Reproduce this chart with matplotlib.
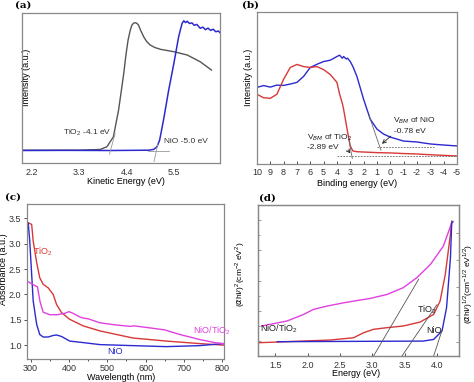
import matplotlib.pyplot as plt
import matplotlib.ticker as mticker

plt.rcParams['font.family'] = ['Liberation Sans', 'DejaVu Sans']
plt.rcParams['font.size'] = 6.5
plt.rcParams['mathtext.fontset'] = 'custom'
plt.rcParams['mathtext.rm'] = 'Liberation Sans'
plt.rcParams['axes.unicode_minus'] = False

RED = '#d83838'
BLUE = '#2a2ad0'
MAG = '#e040e0'
GREY = '#555555'
FRAME = '#888888'

# (a) UPS cut-off, kinetic energy
a_tio2_e = [1.98, 3.3, 3.785, 3.94, 4.09, 4.21, 4.27, 4.33, 4.38, 4.43, 4.48, 4.52, 4.56, 4.6, 4.63, 4.67,
            4.72, 4.79, 4.86, 4.94, 5.05, 5.18, 5.49, 5.8, 6.1, 6.36]
a_tio2_i = [8.6, 8.6, 9.1, 10.9, 17.5, 35.3, 47.5, 59.8, 72, 82, 88.5, 92, 93.3, 93.5, 93.2, 92,
            88.5, 84.2, 81, 78.7, 77, 75.8, 74.2, 72, 67.5, 62]
a_nio_e = [1.98, 3.0, 4.0, 4.9, 5.02, 5.1, 5.16, 5.25, 5.37, 5.49, 5.6, 5.68, 5.72, 5.76, 5.8, 5.85, 5.91,
           5.96, 6.02, 6.1, 6.16, 6.22, 6.28, 6.34, 6.4, 6.46, 6.52, 6.56]
a_nio_i = [8.4, 8.5, 8.4, 8.6, 9.1, 10.9, 15.3, 28.7, 48.7, 66.5, 84.2, 93.1, 94.8, 93.6, 94.5, 93.0, 93.4,
           91.8, 92.4, 89.8, 90.6, 88.9, 89.9, 88.4, 89.2, 87.5, 88.0, 86.8]

# (b) valence band, binding energy
b_be = [10, 9.5, 9, 8.5, 8, 7.5, 7, 6.5, 6, 5.5, 5, 4.5, 4, 3.8, 3.6, 3.5, 3.3, 3.2, 3.0, 2.8, 2.5, 2, 1.5,
        1, 0.5, 0, -1, -2, -3, -4, -5]
b_nio = [50.3, 51.5, 50.5, 51.8, 51.6, 52.5, 53.6, 57.5, 63.4, 65.5, 67.3, 68.2, 70.6, 71.5, 69.5, 70.6,
         69.0, 69.5, 67.3, 64.0, 57.5, 42.5, 29.4, 22.9, 19.6, 17.6, 15.0, 14.4, 13.1, 12.4, 11.8]
b_tio2 = [45.8, 43.5, 43.1, 45.8, 55.6, 63.4, 65.4, 64.0, 63.4, 64.0, 62.0, 58.8, 53.6, 46.0, 40.0, 36.0,
          26.0, 21.0, 11.8, 8.5, 8.0, 7.8, 7.6, 7.4, 7.3, 7.2, 6.8, 6.5, 6.0, 5.6, 5.2]

# (c) UV-vis absorbance
c_wl = [294, 298, 303, 307, 316, 324, 333, 346, 359, 368, 381, 402, 437, 481, 567, 654, 741, 803]
c_tio2 = [3.41, 3.40, 3.38, 3.05, 2.63, 2.33, 2.20, 2.13, 2.00, 1.80, 1.64, 1.51, 1.38, 1.28, 1.14, 1.08, 1.03, 1.00]
c_nio = [3.41, 3.05, 2.39, 1.87, 1.41, 1.21, 1.16, 1.16, 1.19, 1.20, 1.17, 1.08, 1.05, 1.01, 0.99, 0.97, 0.99, 1.03]
c_mix_wl = [294, 310, 318, 325, 333, 350, 370, 390, 400, 410, 430, 440, 450, 481, 520, 560, 570, 611, 650,
            689, 741, 780, 803]
c_mix = [2.25, 2.18, 2.15, 1.85, 1.65, 1.60, 1.60, 1.63, 1.66, 1.63, 1.55, 1.53, 1.52, 1.44, 1.40, 1.37,
         1.38, 1.34, 1.30, 1.21, 1.11, 1.05, 1.03]

# (d) Tauc plot
d_mix_e = [1.29, 1.68, 1.94, 2.09, 2.30, 2.56, 2.97, 3.23, 3.48, 3.69, 3.90, 4.10, 4.23]
d_mix = [19.9, 23.2, 27.6, 30.9, 33.1, 35.3, 38.2, 40.8, 45.3, 51.9, 60.7, 72.8, 88.3]
d_tio2_e = [1.23, 2.35, 2.71, 2.87, 3.02, 3.23, 3.48, 3.74, 3.95, 4.05, 4.13, 4.21, 4.23]
d_tio2 = [8.8, 10.6, 12.1, 15.5, 17.7, 18.8, 19.9, 22.5, 27.6, 36.4, 54.0, 80.6, 89.4]
d_nio_e = [1.53, 3.79, 3.95, 4.08, 4.15, 4.21, 4.23, 4.25]
d_nio = [9.5, 9.9, 11.0, 16.6, 32.0, 65.0, 88.3, 89.0]

fig = plt.figure(figsize=(4.74, 3.82), dpi=100)
ax_a = fig.add_axes([0.0464, 0.573, 0.418, 0.393])
ax_b = fig.add_axes([0.542, 0.571, 0.422, 0.398])
ax_c = fig.add_axes([0.0563, 0.0594, 0.416, 0.406])
ax_d = fig.add_axes([0.544, 0.068, 0.424, 0.395])

for ax in (ax_a, ax_b, ax_c, ax_d):
    for s in ax.spines.values():
        s.set_color(FRAME)
        s.set_linewidth(0.9)

# ---- (a)
ax_a.plot(a_tio2_e, a_tio2_i, color=GREY, lw=1.0)
ax_a.plot(a_nio_e, a_nio_i, color=BLUE, lw=1.1)
ax_a.plot([4.0, 4.13], [6, 19.8], color='#999999', lw=0.6)
ax_a.plot([4.89, 5.37], [8, 8], color='#999999', lw=0.6)
ax_a.plot([5.03, 5.12], [1, 13], color='#999999', lw=0.6)
ax_a.text(2.93, 20, 'TiO$_2$ -4.1 eV', color='#333333', fontsize=6, va='center')
ax_a.text(5.25, 14.7, 'NiO -5.0 eV', color='#333333', fontsize=6, va='center')
ax_a.set_xlim(1.975, 6.56)
ax_a.set_ylim(0, 100)
ax_a.set_xticks([2.2, 3.3, 4.4, 5.5])
ax_a.set_yticks([])
ax_a.tick_params(axis='x', length=0, pad=3.5, colors='#333333')
ax_a.set_xlabel('Kinetic Energy (eV)')
ax_a.xaxis.set_label_coords(0.525, -0.093)
ax_a.set_ylabel('Intensity (a.u.)')
ax_a.yaxis.set_label_coords(0.045, 0.57)

# ---- (b)
ax_b.plot(b_be, b_nio, color=BLUE, lw=1.0)
ax_b.plot(b_be, b_tio2, color=RED, lw=1.0)
ax_b.plot([4, -5], [5.4, 5.4], color='#666666', lw=0.6, ls=(0, (2, 1.5)))
ax_b.plot([1.0, -3.3], [11.3, 11.3], color='#666666', lw=0.6, ls=(0, (2, 1.5)))
ax_b.plot([3.1, 2.85], [16, 3.5], color='#666666', lw=0.6)
ax_b.plot([1.6, 0.7], [32, 9], color='#666666', lw=0.6)
ax_b.text(6.25, 17, 'V$_{BM}$ of TiO$_2$', fontsize=6, va='center', color='#222222')
ax_b.text(6.25, 11.1, '-2.89 eV', fontsize=6, va='center', color='#222222')
ax_b.annotate('', xy=(2.87, 5.4), xytext=(3.3, 10.5),
              arrowprops=dict(arrowstyle='->', lw=0.6, color='#222222'))
ax_b.text(-0.2, 28.1, 'V$_{BM}$ of NiO', fontsize=6, va='center', color='#222222')
ax_b.text(-0.28, 21.5, '-0.78 eV', fontsize=6, va='center', color='#222222')
ax_b.annotate('', xy=(0.78, 12), xytext=(-0.2, 19.5),
              arrowprops=dict(arrowstyle='->', lw=0.6, color='#222222'))
ax_b.set_xlim(10, -5)
ax_b.set_ylim(0, 100)
ax_b.set_xticks(range(10, -6, -1))
ax_b.set_yticks([])
ax_b.tick_params(axis='x', direction='in', length=2.5, width=0.6, pad=3, colors='#333333')
ax_b.set_xlabel('Binding energy (eV)')
ax_b.xaxis.set_label_coords(0.5, -0.099)
ax_b.set_ylabel('Intensity (a.u.)')
ax_b.yaxis.set_label_coords(-0.02, 0.57)

# ---- (c)
ax_c.plot(c_wl, c_tio2, color=RED, lw=1.0)
ax_c.plot(c_wl, c_nio, color=BLUE, lw=1.0)
ax_c.plot(c_mix_wl, c_mix, color=MAG, lw=1.0)
ax_c.text(306, 2.85, 'TiO$_2$', color=RED, fontsize=6.5, va='center')
ax_c.text(723, 1.28, 'NiO/TiO$_2$', color=MAG, fontsize=6.5, va='center')
ax_c.text(499, 0.88, 'NiO', color=BLUE, fontsize=6.5, va='center')
ax_c.set_xlim(290, 804)
ax_c.set_ylim(0.72, 3.78)
ax_c.set_xticks(range(300, 801, 100))
ax_c.xaxis.set_minor_locator(mticker.MultipleLocator(50))
ax_c.set_yticks([1.0, 1.5, 2.0, 2.5, 3.0, 3.5])
ax_c.yaxis.set_major_formatter(mticker.FormatStrFormatter('%.1f'))
ax_c.tick_params(which='both', direction='out', width=0.6, pad=1.2, colors='#333333')
ax_c.tick_params(which='major', length=2.5)
ax_c.tick_params(which='minor', length=1.5)
ax_c.set_xlabel('Wavelength (nm)')
ax_c.xaxis.set_label_coords(0.48, -0.088)
ax_c.set_ylabel('Absorbance (a.u.)')
ax_c.yaxis.set_label_coords(-0.097, 0.58)

# ---- (d)
ax_d.plot(d_mix_e, d_mix, color=MAG, lw=1.0)
ax_d.plot(d_tio2_e, d_tio2, color=RED, lw=1.0)
ax_d.plot(d_nio_e, d_nio, color=BLUE, lw=1.0)
for xs, ys in (([3.02, 3.72], [0, 51]), ([3.46, 4.0], [0, 34]), ([3.95, 4.08], [0, 17])):
    ax_d.plot(xs, ys, color='#555555', lw=0.6)
ax_d.text(3.69, 30.5, 'TiO$_2$', fontsize=6.5, va='center', color='#222222')
ax_d.text(1.26, 17.9, 'NiO/TiO$_2$', fontsize=6.5, va='center', color='#222222')
ax_d.text(3.84, 16.6, 'NiO', fontsize=6.5, va='center', color='#222222')
ax_d.set_xlim(1.23, 4.34)
ax_d.set_ylim(0, 100)
ax_d.set_xticks([1.5, 2.0, 2.5, 3.0, 3.5, 4.0])
ax_d.set_yticks([10, 30, 50, 70, 90])
ax_d.set_yticks([20, 40, 60, 80], minor=True)
ax_d.yaxis.set_major_formatter(mticker.NullFormatter())
ax_d.tick_params(axis='x', direction='in', length=2.5, width=0.6, pad=3.5, colors='#333333')
ax_d.tick_params(axis='y', which='both', direction='in', width=0.6, colors='#888888')
ax_d.tick_params(axis='y', which='major', length=2.5)
ax_d.tick_params(axis='y', which='minor', length=1.5)
ax_d.set_xlabel('Energy (eV)')
ax_d.xaxis.set_label_coords(0.49, -0.086)
ax_d.set_ylabel(r'($\alpha$h$\nu$)$^2$(cm$^{-2}$ eV$^2$)', fontsize=6)
ax_d.yaxis.set_label_coords(-0.052, 0.54)
ax_d2 = ax_d.twinx()
ax_d2.set_ylim(0, 100)
ax_d2.set_yticks([9.5, 27.5, 45.5, 63.5, 81.5])
ax_d2.yaxis.set_major_formatter(mticker.NullFormatter())
ax_d2.tick_params(axis='y', direction='in', length=2.5, width=0.6, colors='#888888')
for s in ax_d2.spines.values():
    s.set_color(FRAME)
    s.set_linewidth(0.9)
ax_d2.set_ylabel(r'($\alpha$h$\nu$)$^{1/2}$(cm$^{-1/2}$ eV$^{1/2}$)', fontsize=6)
ax_d2.yaxis.set_label_coords(1.01, 0.48)

for lbl, x, y in (('(a)', 15, 5), ('(b)', 242, 5), ('(c)', 5, 197), ('(d)', 259, 198)):
    fig.text(x / 474, 1 - y / 382, lbl, fontsize=7.5, fontweight='bold', family='DejaVu Serif',
             va='center', ha='left')

fig.savefig('out.png', dpi=100)
